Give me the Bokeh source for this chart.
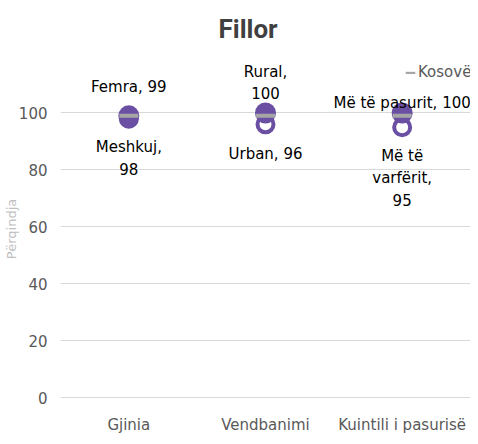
from bokeh.plotting import figure
from bokeh.models import ColumnDataSource, Range1d, FactorRange, FixedTicker, Legend, LegendItem
from bokeh.core.properties import value
from bokeh.embed import file_html
from bokeh.resources import INLINE

# ---- data ----
categories = ["Gjinia", "Vendbanimi", "Kuintili i pasurisë"]
high_names = ["Femra", "Rural", "Më të pasurit"]
high_values = [99, 100, 100]
low_names = ["Meshkuj", "Urban", "Më të varfërit"]
low_values = [98, 96, 95]
kosovo_values = [99, 99, 99]
y_ticks = [0, 20, 40, 60, 80, 100]

# label texts (as displayed, with line breaks)
high_labels = ["Femra, 99", "Rural,\n100", "Më të pasurit, 100"]
low_labels = ["Meshkuj,\n98", "Urban, 96", "Më të\nvarfërit,\n95"]

# ---- styles ----
PURPLE = "#6a4fa3"
GRAY = "#a6a6a6"
TXT = "#000000"
AX = "#595959"
FONT = "DejaVu Sans"
high_offsets = [-29, -30, -10]
low_offsets = [40, 30, 51]

p = figure(width=470, height=436,
           x_range=FactorRange(*categories, start=0, end=3.059),
           y_range=Range1d(-3.48, 121.95), output_backend="svg", toolbar_location=None,
           min_border_left=54, min_border_right=0, min_border_top=50, min_border_bottom=26)

p.title.text = "Fillor"
p.title.align = "left"
p.title.offset = 158
p.title.standoff = 14
p.title.text_font = "Roboto"
p.title.text_font_size = "26px"
p.title.text_font_style = "bold"
p.title.text_color = "#404040"

p.outline_line_color = None
p.xgrid.grid_line_color = None
p.ygrid.grid_line_color = "#d9d9d9"
p.ygrid.grid_line_width = 1

p.yaxis.ticker = FixedTicker(ticks=y_ticks)
p.yaxis.axis_line_color = None
p.yaxis.major_tick_line_color = None
p.yaxis.minor_tick_line_color = None
p.yaxis.major_tick_out = 0
p.yaxis.major_tick_in = 0
p.yaxis.major_label_text_color = AX
p.yaxis.major_label_text_font = FONT
p.yaxis.major_label_text_font_size = "15px"
p.yaxis.major_label_standoff = 13
p.yaxis.axis_label = "Përqindja"
p.yaxis.axis_label_text_font = FONT
p.yaxis.axis_label_text_font_size = "13px"
p.yaxis.axis_label_text_font_style = "normal"
p.yaxis.axis_label_text_color = "#bfbfbf"
p.yaxis.axis_label_standoff = -3

p.xaxis.axis_line_color = None
p.xaxis.major_tick_line_color = None
p.xaxis.minor_tick_line_color = None
p.xaxis.major_tick_out = 0
p.xaxis.major_tick_in = 0
p.xaxis.major_label_text_color = AX
p.xaxis.major_label_text_font = FONT
p.xaxis.major_label_text_font_size = "15px"
p.xaxis.major_label_standoff = 8

src_low = ColumnDataSource(dict(x=categories, y=low_values, t=low_labels, off=low_offsets))
src_high = ColumnDataSource(dict(x=categories, y=high_values, t=high_labels, off=high_offsets))
src_kos = ColumnDataSource(dict(x=categories, y=kosovo_values))

p.scatter("x", "y", source=src_low, size=16, marker="circle",
          fill_color="white", line_color=PURPLE, line_width=4)
p.scatter("x", "y", source=src_high, size=21, marker="circle",
          fill_color=PURPLE, line_color=None)
kos = p.rect("x", "y", width=19, height=4, width_units="screen", height_units="screen",
             source=src_kos, fill_color=GRAY, line_color=None)

p.text("x", "y", text="t", source=src_high, y_offset="off", text_align="center",
       text_baseline="middle", text_font=value(FONT), text_font_size="15px",
       text_color=TXT, text_line_height=1.2)
p.text("x", "y", text="t", source=src_low, y_offset="off", text_align="center",
       text_baseline="middle", text_font=value(FONT), text_font_size="15px",
       text_color=TXT, text_line_height=1.25)

legend = Legend(items=[LegendItem(label="Kosovë", renderers=[kos])],
                location=(344, 326), background_fill_alpha=0, border_line_color=None,
                label_text_font=FONT, label_text_font_size="15px", label_text_color=AX,
                glyph_width=12, glyph_height=3, label_standoff=2, padding=0, margin=0)
p.add_layout(legend)

open("out.html", "w").write(file_html(p, INLINE))
